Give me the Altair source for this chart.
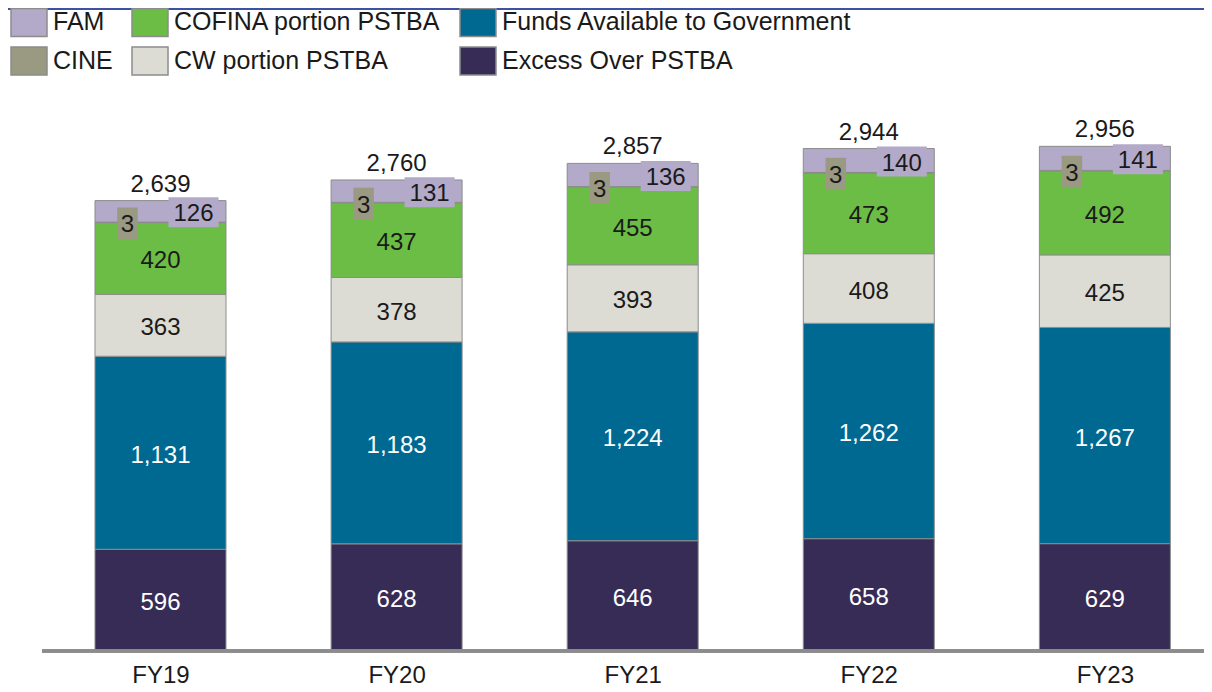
import json
import altair as alt
import pandas as pd

years = ["FY19", "FY20", "FY21", "FY22", "FY23"]
excess = [596, 628, 646, 658, 629]
funds = [1131, 1183, 1224, 1262, 1267]
cw = [363, 378, 393, 408, 425]
cofina = [420, 437, 455, 473, 492]
cine = [3, 3, 3, 3, 3]
fam = [126, 131, 136, 140, 141]
totals = [2639, 2760, 2857, 2944, 2956]

stack_order = ["Excess Over PSTBA", "Funds Available to Government", "CW portion PSTBA",
               "COFINA portion PSTBA", "CINE", "FAM"]
values = {
    "Excess Over PSTBA": excess,
    "Funds Available to Government": funds,
    "CW portion PSTBA": cw,
    "COFINA portion PSTBA": cofina,
    "CINE": cine,
    "FAM": fam,
}
# legend fills column by column (two rows)
legend_order = ["FAM", "CINE", "COFINA portion PSTBA", "CW portion PSTBA",
                "Funds Available to Government", "Excess Over PSTBA"]
palette = {
    "FAM": "#b3a9c9",
    "COFINA portion PSTBA": "#6cbd45",
    "Funds Available to Government": "#006991",
    "CINE": "#9a9982",
    "CW portion PSTBA": "#dcdcd4",
    "Excess Over PSTBA": "#372c56",
}
dark_series = ["Excess Over PSTBA", "Funds Available to Government"]

rows = []
tot_rows = []
for i, yr in enumerate(years):
    cum = 0
    for s in stack_order:
        v = values[s][i]
        rows.append({"year": yr, "idx": i, "series": s, "value": v, "y0": cum, "y1": cum + v,
                     "mid": cum + v / 2, "order": stack_order.index(s)})
        cum += v
    tot_rows.append({"year": yr, "idx": i, "total": totals[i], "top": cum})
df = pd.DataFrame(rows)
tdf = pd.DataFrame(tot_rows)

FONT = "Liberation Sans"
W, H = 1162, 512
BAR_W = 131
xscale = alt.Scale(domain=[-0.5019, 4.4198], nice=False, zero=False, padding=0)
yscale = alt.Scale(domain=[0, 3000], nice=False, zero=True, padding=0)

x_enc = alt.X("idx:Q", scale=xscale,
              axis=alt.Axis(title=None, values=list(range(len(years))),
                            labelExpr=json.dumps(years) + "[datum.value]",
                            labelFontSize=24, labelColor="#1a1a1a", labelFont=FONT,
                            ticks=False, domain=False, grid=False, labelPadding=12,
                            labelAngle=0, labelFlush=False, labelOverlap=False))

base = alt.Chart(df)

bars = base.mark_bar(stroke="#8c8c8c", strokeWidth=1, width=BAR_W).encode(
    x=x_enc,
    y=alt.Y("y0:Q", scale=yscale, axis=None),
    y2="y1:Q",
    color=alt.Color("series:N",
                    scale=alt.Scale(domain=legend_order, range=[palette[s] for s in legend_order]),
                    legend=alt.Legend(orient="none", legendX=-32, legendY=-136, columns=3,
                                      title=None, padding=0,
                                      symbolType="M-1,-0.78L1,-0.78L1,0.78L-1,0.78Z",
                                      symbolSize=1296, symbolStrokeColor="#8c8c8c",
                                      symbolStrokeWidth=1.5, symbolOpacity=1,
                                      labelFontSize=25, labelFont=FONT, labelColor="#1a1a1a",
                                      labelOffset=5, columnPadding=16, rowPadding=2,
                                      labelLimit=0)),
    order=alt.Order("order:Q"),
)

light_text = base.transform_filter(
    alt.FieldOneOfPredicate(field="series", oneOf=["CW portion PSTBA", "COFINA portion PSTBA"])
).mark_text(fontSize=24, font=FONT, color="#1a1a1a", baseline="middle", dy=3).encode(
    x=x_enc, y=alt.Y("mid:Q", scale=yscale), text=alt.Text("value:Q", format=",")
)
dark_text = base.transform_filter(
    alt.FieldOneOfPredicate(field="series", oneOf=dark_series)
).mark_text(fontSize=24, font=FONT, color="#ffffff", baseline="middle", dy=3).encode(
    x=x_enc, y=alt.Y("mid:Q", scale=yscale), text=alt.Text("value:Q", format=",")
)

cine_box = base.transform_filter(alt.datum.series == "CINE").mark_point(
    shape="M-1,-1.55L1,-1.55L1,1.55L-1,1.55Z", size=420, filled=True,
    fill=palette["CINE"], opacity=1, strokeOpacity=0, xOffset=-33, yOffset=1
).encode(x=x_enc, y=alt.Y("mid:Q", scale=yscale))
cine_text = base.transform_filter(alt.datum.series == "CINE").mark_text(
    fontSize=24, font=FONT, color="#1a1a1a", baseline="middle", xOffset=-33, dy=3
).encode(x=x_enc, y=alt.Y("mid:Q", scale=yscale), text=alt.Text("value:Q", format=","))

fam_box = base.transform_filter(alt.datum.series == "FAM").mark_point(
    shape="M-1,-0.6L1,-0.6L1,0.6L-1,0.6Z", size=2500, filled=True,
    fill=palette["FAM"], opacity=1, strokeOpacity=0, xOffset=33, yOffset=1
).encode(x=x_enc, y=alt.Y("mid:Q", scale=yscale))
fam_text = base.transform_filter(alt.datum.series == "FAM").mark_text(
    fontSize=24, font=FONT, color="#1a1a1a", baseline="middle", xOffset=33, dy=3
).encode(x=x_enc, y=alt.Y("mid:Q", scale=yscale), text=alt.Text("value:Q", format=","))

total_text = alt.Chart(tdf).mark_text(
    fontSize=24, font=FONT, color="#1a1a1a", baseline="alphabetic", dy=-9
).encode(x=x_enc, y=alt.Y("top:Q", scale=yscale), text=alt.Text("total:Q", format=","))

top_line = alt.Chart(tdf).mark_rule(color="#3f51a3", strokeWidth=2).encode(
    x=alt.value(-34), x2=alt.value(W), y=alt.value(-130)
)
base_line = alt.Chart(tdf).mark_rule(color="#8c8c8c", strokeWidth=3).encode(
    x=alt.value(0), x2=alt.value(W), y=alt.value(H)
)

chart = alt.layer(
    bars, base_line, light_text, dark_text, cine_box, cine_text, fam_box, fam_text,
    total_text, top_line
).properties(
    width=W, height=H,
    autosize=alt.AutoSizeParams(type="none"),
    padding={"left": 34, "top": 131, "right": 0, "bottom": 33},
).configure(font=FONT).configure_view(stroke=None)

chart.save("out.html", embed_options={"renderer": "svg", "actions": False})
